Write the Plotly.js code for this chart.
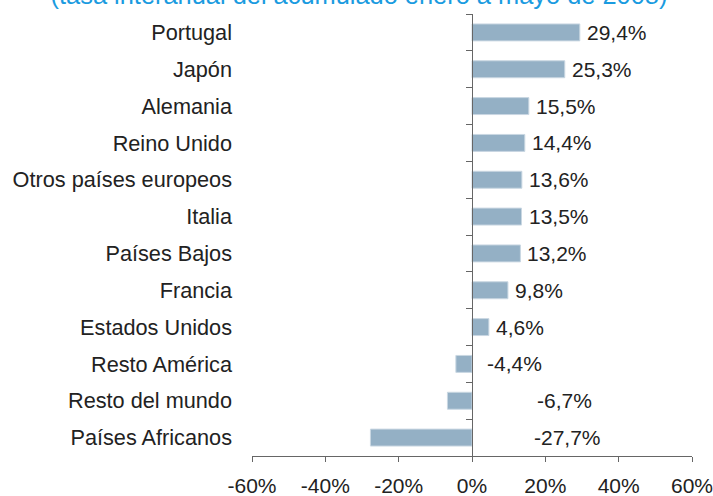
<!DOCTYPE html>
<html>
<head>
<meta charset="utf-8">
<script src="https://cdn.plot.ly/plotly-3.0.1.min.js"></script>
<style>html,body{margin:0;padding:0;background:#fff;}#chart{width:713px;height:496px;}</style>
</head>
<body>
<div id="chart"></div>
<script>
const categories = ["Portugal", "Japón", "Alemania", "Reino Unido", "Otros países europeos", "Italia", "Países Bajos", "Francia", "Estados Unidos", "Resto América", "Resto del mundo", "Países Africanos"];
const values = [29.4, 25.3, 15.5, 14.4, 13.6, 13.5, 13.2, 9.8, 4.6, -4.4, -6.7, -27.7];
const valueLabels = ["29,4%", "25,3%", "15,5%", "14,4%", "13,6%", "13,5%", "13,2%", "9,8%", "4,6%", "-4,4%", "-6,7%", "-27,7%"];
const xTicks = [-60, -40, -20, 0, 20, 40, 60];
const titleText = "(tasa interanual del acumulado enero a mayo de 2008)";

// label placement offsets (px) for negative values, which were put right of the axis
const negShift = {"-4,4%": 13, "-6,7%": 63, "-27,7%": 60};

const font = "Liberation Sans, Arial, sans-serif";
const annotations = categories.map((c, i) => {
  const v = values[i];
  const lab = valueLabels[i];
  if (v >= 0) {
    return {x: v, y: c, xref: "x", yref: "y", text: lab, showarrow: false,
            xanchor: "left", yanchor: "middle", xshift: 5,
            font: {family: font, size: 21, color: "#222"}};
  }
  return {x: 0, y: c, xref: "x", yref: "y", text: lab, showarrow: false,
          xanchor: "left", yanchor: "middle", xshift: negShift[lab] || 10,
          font: {family: font, size: 21, color: "#222"}};
});

const traces = [
  {type: "bar", orientation: "h", x: values, y: categories, width: 0.46,
   marker: {color: "#94b0c5", line: {color: "#c9d7e2", width: 1}},
   hoverinfo: "skip", xaxis: "x", yaxis: "y"},
  {type: "scatter", mode: "markers", x: categories.map(() => 0), y: categories,
   marker: {opacity: 0}, hoverinfo: "skip", xaxis: "x", yaxis: "y2", showlegend: false}
];

const layout = {
  width: 713, height: 496,
  margin: {l: 252, r: 21, t: 14, b: 40},
  paper_bgcolor: "#fff", plot_bgcolor: "#fff",
  showlegend: false,
  font: {family: font, size: 21, color: "#222"},
  title: {text: titleText, x: 0.5035, xref: "container", xanchor: "center",
          y: 0.991, yref: "container", yanchor: "bottom",
          font: {family: font, size: 25.4, color: "#1a9be0"}},
  xaxis: {range: [-60, 60], tickvals: xTicks, ticktext: xTicks.map(t => t + "%"),
          showgrid: false, zeroline: false, showline: true, linecolor: "#666", linewidth: 1,
          ticks: "outside", ticklen: 5, tickcolor: "#666", ticklabelstandoff: 6,
          ticklabeloverflow: "allow",
          tickfont: {family: font, size: 21, color: "#222"}, fixedrange: true},
  yaxis: {type: "category", categoryarray: categories, categoryorder: "array",
          range: [11.5, -0.5], showgrid: false, zeroline: false, showline: false, ticks: "",
          ticklabelstandoff: 19, tickfont: {family: font, size: 21.7, color: "#222"}},
  yaxis2: {type: "category", categoryarray: categories, categoryorder: "array",
           range: [11.5, -0.5], overlaying: "y", anchor: "free", position: 0.5, side: "left",
           showgrid: false, zeroline: false, showline: true, linecolor: "#666", linewidth: 1,
           ticks: "outside", tickson: "boundaries", ticklen: 6, tickcolor: "#666",
           showticklabels: false},
  annotations: annotations,
  bargap: 0.5
};

Plotly.newPlot("chart", traces, layout, {staticPlot: true, displayModeBar: false});
</script>
</body>
</html>
